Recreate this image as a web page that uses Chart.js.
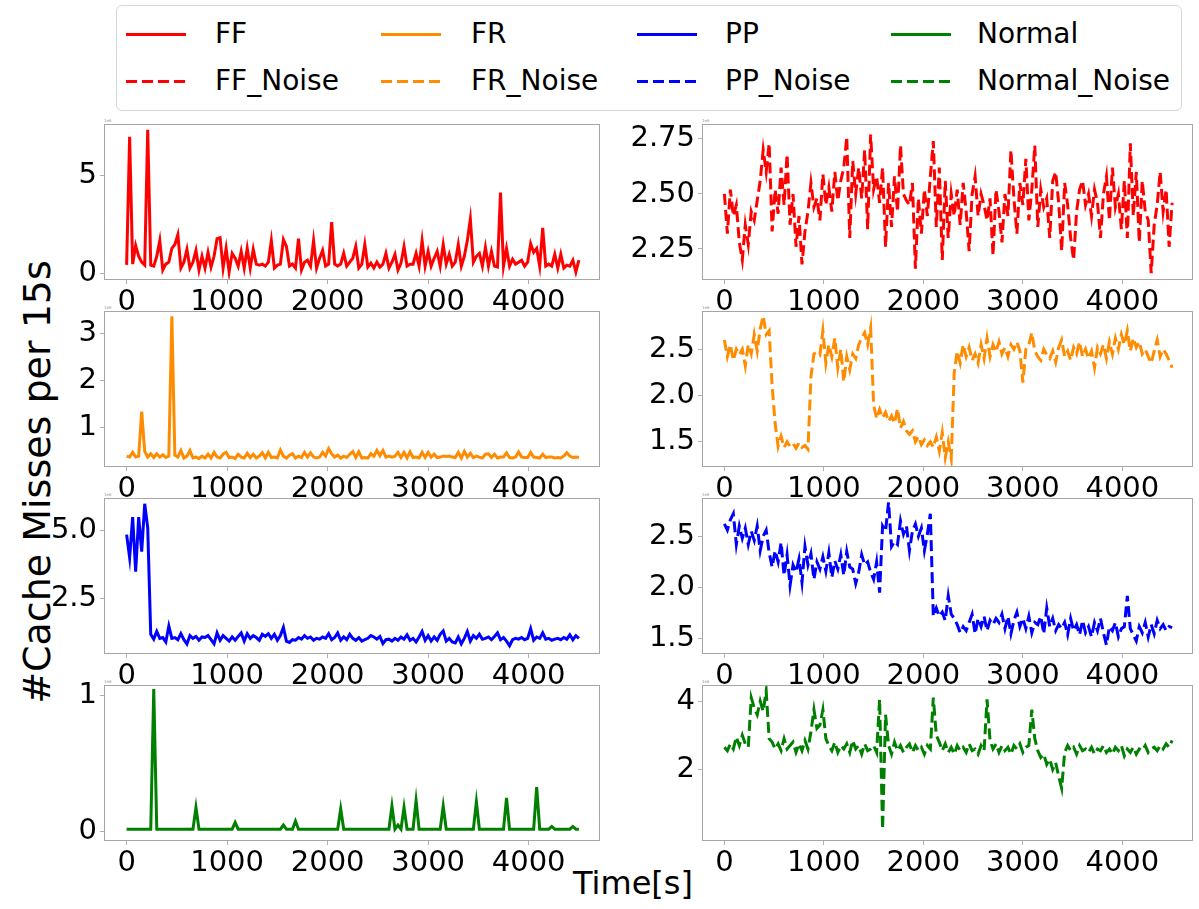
<!DOCTYPE html>
<html>
<head>
<meta charset="utf-8">
<script src="https://cdn.jsdelivr.net/npm/chart.js@4.4.1/dist/chart.umd.min.js"></script>
<style>
  body { margin: 0; background: #fff; width: 1199px; height: 909px; position: relative; overflow: hidden; font-family: "DejaVu Sans", sans-serif; }
  canvas.panel { position: absolute; }
  #legend { position: absolute; left: 116px; top: 5px; width: 1066px; height: 106px; border: 1px solid #d6d6d6; border-radius: 6px; box-sizing: border-box; }
  .lg-line { position: absolute; width: 60px; height: 3px; }
  .lg-text { position: absolute; font-size: 28px; line-height: 34px; color: #000; white-space: nowrap; }
  #ylabel { position: absolute; left: -263px; top: 460px; width: 600px; height: 44px; text-align: center; font-size: 38px; line-height: 44px; transform: rotate(-90deg); white-space: nowrap; }
  #xlabel { position: absolute; left: 483px; top: 863px; width: 300px; text-align: center; font-size: 32px; line-height: 40px; }
</style>
</head>
<body>
<div id="legend"></div>
<div id="ylabel">#Cache Misses per 15s</div>
<div id="xlabel">Time[s]</div>
<script>
// samples are every 30 s, starting at t = 0
const sampleStep = 30;
const xTicks = [0, 1000, 2000, 3000, 4000];

const legendNames = ['FF', 'FR', 'PP', 'Normal'];
const legendNoiseNames = ['FF_Noise', 'FR_Noise', 'PP_Noise', 'Normal_Noise'];
const colors = ['#ff0000', '#ff8c00', '#0000ff', '#008000'];

const ffValues = [0.46, 7.0, 0.5, 1.45, 0.9, 0.6, 0.45, 7.35, 0.45, 0.4,
  0.9, 1.7, 0.2, 0.5, 0.6, 1.3, 1.5, 2.0, 0.3, 0.6,
  1.25, 0.3, 0.6, 1.2, 0.2, 0.9, 0.3, 1.1, 0.35, 0.9,
  1.8, 1.85, 0.3, 1.3, 0.1, 1.05, 0.8, 0.4, 1.15, 0.3,
  1.3, 0.3, 1.25, 0.5, 0.45, 0.5, 0.4, 0.6, 1.7, 0.3,
  0.45, 0.5, 1.75, 1.4, 0.4, 0.5, 0.3, 1.8, 0.2, 0.6,
  0.7, 0.4, 1.7, 0.3, 0.8, 1.2, 0.4, 0.5, 2.65, 0.5,
  0.4, 0.5, 1.05, 0.4, 0.6, 0.8, 1.4, 0.3, 0.5, 1.5,
  0.35, 0.55, 0.3, 0.6, 0.35, 0.5, 1.05, 0.3, 0.6, 1.0,
  0.2, 0.55, 1.4, 0.4, 0.5, 0.5, 1.05, 0.4, 1.7, 0.4,
  1.15, 0.4, 0.8, 1.15, 0.4, 1.5, 0.5, 1.0, 0.4, 0.6,
  1.5, 0.4, 0.9, 1.7, 2.8, 0.6, 0.9, 1.05, 0.4, 1.35,
  0.4, 1.15, 0.4, 0.35, 4.15, 0.4, 1.3, 0.4, 0.75, 0.5,
  0.6, 0.7, 0.4, 0.6, 1.55, 1.1, 1.3, 0.4, 2.35, 0.4,
  0.5, 0.4, 1.0, 0.3, 1.0, 0.3, 0.45, 0.4, 0.7, 0.1, 0.7];

const ffNoiseValues = [2.50, 2.32, 2.52, 2.40, 2.45, 2.28, 2.20, 2.36, 2.27, 2.42,
  2.38, 2.47, 2.56, 2.70, 2.60, 2.73, 2.33, 2.52, 2.41, 2.62,
  2.45, 2.68, 2.36, 2.50, 2.26, 2.40, 2.18, 2.33, 2.42, 2.55,
  2.44, 2.48, 2.38, 2.59, 2.45, 2.53, 2.42, 2.60, 2.47, 2.56,
  2.62, 2.76, 2.30, 2.65, 2.50, 2.62, 2.48, 2.70, 2.34, 2.77,
  2.52, 2.58, 2.46, 2.62, 2.26, 2.55, 2.35, 2.58, 2.42, 2.72,
  2.50, 2.47, 2.45, 2.55, 2.16, 2.48, 2.32, 2.52, 2.40, 2.58,
  2.74, 2.35, 2.62, 2.20, 2.56, 2.30, 2.50, 2.40, 2.52, 2.36,
  2.55, 2.42, 2.24, 2.50, 2.58, 2.40, 2.50, 2.45, 2.38, 2.48,
  2.22, 2.52, 2.42, 2.28, 2.50, 2.40, 2.70, 2.48, 2.32, 2.55,
  2.45, 2.66, 2.38, 2.52, 2.72, 2.35, 2.52, 2.44, 2.48, 2.30,
  2.56, 2.60, 2.46, 2.24, 2.55, 2.45, 2.30, 2.20, 2.42, 2.52,
  2.56, 2.45, 2.50, 2.40, 2.52, 2.46, 2.30, 2.50, 2.58, 2.38,
  2.62, 2.44, 2.50, 2.34, 2.56, 2.30, 2.73, 2.40, 2.60, 2.28,
  2.56, 2.42, 2.38, 2.14, 2.36, 2.45, 2.60, 2.42, 2.52, 2.26, 2.46];

const frValues = [0.40, 0.38, 0.48, 0.38, 0.40, 1.34, 0.50, 0.38, 0.45, 0.37,
  0.45, 0.38, 0.43, 0.37, 0.40, 3.36, 0.42, 0.38, 0.52, 0.36,
  0.40, 0.52, 0.36, 0.38, 0.35, 0.40, 0.36, 0.44, 0.36, 0.48,
  0.38, 0.36, 0.44, 0.48, 0.37, 0.38, 0.35, 0.44, 0.38, 0.36,
  0.46, 0.37, 0.44, 0.36, 0.40, 0.47, 0.36, 0.48, 0.37, 0.38,
  0.36, 0.53, 0.40, 0.36, 0.42, 0.45, 0.36, 0.40, 0.37, 0.48,
  0.38, 0.47, 0.38, 0.36, 0.38, 0.48, 0.40, 0.56, 0.45, 0.38,
  0.42, 0.36, 0.40, 0.37, 0.44, 0.50, 0.37, 0.49, 0.36, 0.37,
  0.36, 0.45, 0.40, 0.52, 0.41, 0.52, 0.38, 0.40, 0.38, 0.40,
  0.48, 0.37, 0.48, 0.36, 0.49, 0.37, 0.38, 0.36, 0.48, 0.37,
  0.48, 0.38, 0.44, 0.37, 0.38, 0.40, 0.39, 0.40, 0.38, 0.37,
  0.48, 0.36, 0.50, 0.38, 0.46, 0.37, 0.40, 0.38, 0.36, 0.44,
  0.45, 0.37, 0.44, 0.36, 0.38, 0.38, 0.47, 0.37, 0.36, 0.38,
  0.49, 0.38, 0.37, 0.37, 0.48, 0.38, 0.37, 0.36, 0.44, 0.37,
  0.38, 0.38, 0.36, 0.37, 0.36, 0.40, 0.47, 0.40, 0.37, 0.38, 0.37];

const frNoiseValues = [2.60, 2.42, 2.55, 2.38, 2.50, 2.44, 2.50, 2.32, 2.55, 2.45,
  2.66, 2.48, 2.72, 2.86, 2.66, 2.70, 2.10, 1.70, 1.45, 1.56,
  1.44, 1.50, 1.45, 1.48, 1.43, 1.49, 1.44, 1.46, 1.42, 2.20,
  2.45, 2.47, 2.44, 2.70, 2.35, 2.55, 2.42, 2.62, 2.30, 2.50,
  2.15, 2.42, 2.28, 2.45, 2.40, 2.55, 2.62, 2.68, 2.55, 2.73,
  1.90, 1.75, 1.85, 1.76, 1.82, 1.72, 1.78, 1.70, 1.86, 1.65,
  1.72, 1.62, 1.58, 1.62, 1.50, 1.56, 1.47, 1.52, 1.46, 1.50,
  1.44, 1.55, 1.40, 1.60, 1.33, 1.50, 1.32, 2.25, 2.48, 2.35,
  2.55, 2.42, 2.52, 2.38, 2.45, 2.35, 2.55, 2.40, 2.62, 2.42,
  2.55, 2.47, 2.58, 2.45, 2.52, 2.42, 2.55, 2.50, 2.58, 2.48,
  2.14, 2.50, 2.55, 2.68, 2.48, 2.42, 2.38, 2.50, 2.44, 2.40,
  2.48, 2.36, 2.52, 2.60, 2.42, 2.48, 2.38, 2.52, 2.45, 2.58,
  2.42, 2.50, 2.40, 2.48, 2.30, 2.52, 2.45, 2.55, 2.40, 2.58,
  2.45, 2.62, 2.50, 2.66, 2.55, 2.70, 2.48, 2.62, 2.52, 2.58,
  2.45, 2.50, 2.42, 2.35, 2.48, 2.60, 2.42, 2.50, 2.45, 2.38, 2.30];

const ppValues = [4.84, 4.0, 5.48, 3.49, 5.48, 4.22, 5.97, 5.09, 1.2, 1.02,
  1.30, 1.05, 1.08, 0.92, 1.50, 1.05, 1.08, 1.00, 1.22, 1.00,
  0.84, 1.15, 1.05, 1.12, 0.98, 1.10, 1.08, 1.15, 1.00, 0.85,
  1.25, 0.98, 1.15, 1.05, 0.95, 1.10, 0.98, 1.12, 1.25, 0.95,
  1.22, 1.05, 1.15, 1.08, 0.98, 1.20, 1.12, 1.22, 1.05, 1.20,
  0.98, 1.15, 1.45, 0.95, 0.90, 1.00, 0.98, 1.08, 1.02, 1.15,
  1.05, 1.10, 0.98, 1.05, 1.02, 1.10, 1.05, 1.22, 1.00, 1.08,
  1.25, 0.98, 1.10, 1.00, 1.20, 1.05, 0.98, 1.08, 0.95, 1.00,
  1.05, 1.15, 1.10, 1.02, 1.12, 0.86, 1.00, 1.02, 0.95, 1.05,
  0.98, 1.10, 1.02, 1.18, 0.98, 1.05, 0.92, 1.10, 1.30, 0.98,
  1.15, 0.95, 1.10, 0.98, 1.20, 1.32, 0.95, 1.05, 0.92, 0.88,
  1.10, 0.85, 1.05, 1.30, 0.95, 1.15, 1.05, 1.20, 1.02, 1.05,
  1.10, 1.00, 1.12, 1.25, 1.00, 1.08, 0.95, 0.78, 1.00, 1.05,
  1.02, 1.08, 1.00, 1.05, 1.40, 0.98, 1.10, 1.05, 1.25, 1.02,
  1.05, 0.98, 1.02, 1.05, 1.00, 1.08, 1.02, 1.18, 1.00, 1.15, 1.05];

const ppNoiseValues = [2.62, 2.56, 2.66, 2.72, 2.42, 2.60, 2.48, 2.58, 2.42, 2.55,
  2.46, 2.60, 2.36, 2.50, 2.56, 2.34, 2.20, 2.36, 2.25, 2.44,
  2.12, 2.32, 2.02, 2.22, 2.15, 2.28, 2.05, 2.40, 2.22, 2.33,
  2.08, 2.25, 2.18, 2.30, 2.16, 2.34, 2.10, 2.26, 2.18, 2.32,
  2.12, 2.35, 2.20, 2.18, 2.04, 2.15, 2.32, 2.22, 2.25, 2.15,
  2.08, 2.25, 1.95, 2.60, 2.55, 2.83, 2.40, 2.45, 2.42, 2.65,
  2.52, 2.60, 2.36, 2.55, 2.62, 2.50, 2.58, 2.36, 2.52, 2.72,
  1.72, 1.80, 1.72, 1.76, 1.68, 1.92, 1.74, 1.70, 1.64, 1.56,
  1.62, 1.58, 1.66, 1.74, 1.55, 1.70, 1.62, 1.72, 1.58, 1.68,
  1.64, 1.70, 1.66, 1.74, 1.60, 1.72, 1.55, 1.68, 1.76, 1.62,
  1.70, 1.60, 1.72, 1.56, 1.66, 1.64, 1.72, 1.55, 1.80, 1.62,
  1.70, 1.58, 1.64, 1.60, 1.66, 1.54, 1.70, 1.58, 1.64, 1.54,
  1.68, 1.56, 1.62, 1.52, 1.66, 1.58, 1.70, 1.56, 1.44, 1.62,
  1.58, 1.66, 1.52, 1.60, 1.62, 1.92, 1.60, 1.54, 1.48, 1.62,
  1.56, 1.66, 1.52, 1.64, 1.55, 1.68, 1.60, 1.64, 1.58, 1.62, 1.61];

const normalValues = [0.02, 0.02, 0.02, 0.02, 0.02, 0.02, 0.02, 0.02, 0.02, 1.05,
  0.02, 0.02, 0.02, 0.02, 0.02, 0.02, 0.02, 0.02, 0.02, 0.02,
  0.02, 0.02, 0.02, 0.18, 0.02, 0.02, 0.02, 0.02, 0.02, 0.02,
  0.02, 0.02, 0.02, 0.02, 0.02, 0.02, 0.07, 0.02, 0.02, 0.02,
  0.02, 0.02, 0.02, 0.02, 0.02, 0.02, 0.02, 0.02, 0.02, 0.02,
  0.02, 0.02, 0.05, 0.02, 0.02, 0.02, 0.08, 0.02, 0.02, 0.02,
  0.02, 0.02, 0.02, 0.02, 0.02, 0.02, 0.02, 0.02, 0.02, 0.02,
  0.02, 0.17, 0.02, 0.02, 0.02, 0.02, 0.02, 0.02, 0.02, 0.02,
  0.02, 0.02, 0.02, 0.02, 0.02, 0.02, 0.02, 0.02, 0.19, 0.02,
  0.05, 0.02, 0.18, 0.02, 0.02, 0.02, 0.23, 0.02, 0.02, 0.02,
  0.02, 0.02, 0.02, 0.02, 0.02, 0.19, 0.02, 0.02, 0.02, 0.02,
  0.02, 0.02, 0.02, 0.02, 0.02, 0.02, 0.22, 0.02, 0.02, 0.02,
  0.02, 0.02, 0.02, 0.02, 0.02, 0.02, 0.25, 0.02, 0.02, 0.02,
  0.02, 0.02, 0.02, 0.02, 0.02, 0.02, 0.33, 0.02, 0.02, 0.02,
  0.02, 0.04, 0.02, 0.02, 0.02, 0.02, 0.02, 0.02, 0.04, 0.02, 0.02];

const normalNoiseValues = [2.65, 2.55, 2.75, 2.60, 2.95, 2.70, 3.00, 2.75, 2.65, 4.10,
  3.80, 3.60, 4.00, 3.70, 4.30, 2.90, 2.80, 2.60, 2.75, 2.55,
  2.90, 2.60, 2.70, 2.80, 2.50, 2.75, 2.55, 2.85, 2.60, 3.10,
  3.75, 3.20, 3.30, 3.75, 2.90, 2.70, 2.55, 2.80, 2.50, 2.70,
  2.60, 2.75, 2.50, 2.85, 2.60, 2.70, 2.45, 2.75, 2.55, 2.60,
  2.70, 2.50, 4.05, 0.25, 3.60, 2.70, 2.45, 2.80, 2.55, 2.70,
  2.50, 2.65, 2.75, 2.50, 2.70, 2.55, 2.65, 2.45, 2.70, 2.60,
  4.10, 3.00, 2.80, 2.55, 2.75, 2.50, 2.65, 2.45, 2.70, 2.55,
  2.65, 2.50, 2.75, 2.55, 2.60, 2.45, 2.70, 2.55, 4.05, 2.85,
  2.60, 2.75, 2.50, 2.70, 2.55, 2.65, 2.45, 2.70, 2.60, 2.75,
  2.50, 2.65, 2.70, 3.75, 2.90, 2.55, 2.35, 2.45, 2.15, 2.30,
  2.00, 2.20, 1.80, 1.45, 2.50, 2.70, 2.55, 2.65, 2.45, 2.70,
  2.55, 2.60, 2.50, 2.65, 2.45, 2.60, 2.55, 2.70, 2.50, 2.60,
  2.45, 2.65, 2.55, 2.70, 2.40, 2.60, 2.50, 2.65, 2.45, 2.60,
  2.55, 2.70, 2.50, 2.60, 2.65, 2.55, 2.70, 2.60, 2.75, 2.65, 2.85];

// y tick values and their labels per panel
const ffTicks = [0, 5], ffTickLabels = ['0', '5'];
const ffNoiseTicks = [2.25, 2.5, 2.75], ffNoiseTickLabels = ['2.25', '2.50', '2.75'];
const frTicks = [1, 2, 3], frTickLabels = ['1', '2', '3'];
const frNoiseTicks = [1.5, 2.0, 2.5], frNoiseTickLabels = ['1.5', '2.0', '2.5'];
const ppTicks = [2.5, 5.0], ppTickLabels = ['2.5', '5.0'];
const ppNoiseTicks = [1.5, 2.0, 2.5], ppNoiseTickLabels = ['1.5', '2.0', '2.5'];
const normalTicks = [0, 1], normalTickLabels = ['0', '1'];
const normalNoiseTicks = [2, 4], normalNoiseTickLabels = ['2', '4'];

// layout of the grid (pixels)
const rowTops = [124, 311, 498, 685];
const panelH = 156;
const colLefts = [104, 702];
const colWidths = [496, 491];
const yAxisW = 100, xAxisH = 40, padTop = 22, padRight = 6;

const panels = [
  { row: 0, col: 0, values: ffValues, color: colors[0], dashed: false, yMin: -0.31, yMax: 7.65, ticks: ffTicks, labels: ffTickLabels },
  { row: 0, col: 1, values: ffNoiseValues, color: colors[0], dashed: true, yMin: 2.109, yMax: 2.818, ticks: ffNoiseTicks, labels: ffNoiseTickLabels },
  { row: 1, col: 0, values: frValues, color: colors[1], dashed: false, yMin: 0.17, yMax: 3.47, ticks: frTicks, labels: frTickLabels },
  { row: 1, col: 1, values: frNoiseValues, color: colors[1], dashed: true, yMin: 1.228, yMax: 2.913, ticks: frNoiseTicks, labels: frNoiseTickLabels },
  { row: 2, col: 0, values: ppValues, color: colors[2], dashed: false, yMin: 0.478, yMax: 6.18, ticks: ppTicks, labels: ppTickLabels },
  { row: 2, col: 1, values: ppNoiseValues, color: colors[2], dashed: true, yMin: 1.353, yMax: 2.873, ticks: ppNoiseTicks, labels: ppNoiseTickLabels },
  { row: 3, col: 0, values: normalValues, color: colors[3], dashed: false, yMin: -0.067, yMax: 1.08, ticks: normalTicks, labels: normalTickLabels },
  { row: 3, col: 1, values: normalNoiseValues, color: colors[3], dashed: true, yMin: -0.09, yMax: 4.47, ticks: normalNoiseTicks, labels: normalNoiseTickLabels },
];

// box around each axes plus the tiny offset text in the corner
const framePlugin = {
  id: 'frame',
  afterDraw(chart) {
    const { ctx, chartArea: { left, top, right, bottom } } = chart;
    ctx.save();
    ctx.strokeStyle = '#a6a6a6';
    ctx.lineWidth = 1;
    ctx.strokeRect(left + 0.5, top + 0.5, right - left - 1, bottom - top - 1);
    ctx.fillStyle = '#999';
    ctx.font = '4px "DejaVu Sans"';
    ctx.fillText('1e6', left, top - 2);
    ctx.restore();
  }
};

const tickFont = { family: '"DejaVu Sans", sans-serif', size: 29 };

panels.forEach(p => {
  const canvas = document.createElement('canvas');
  canvas.className = 'panel';
  const w = yAxisW + colWidths[p.col] + padRight;
  const h = padTop + panelH + xAxisH;
  canvas.width = w;
  canvas.height = h;
  canvas.style.left = (colLefts[p.col] - yAxisW) + 'px';
  canvas.style.top = (rowTops[p.row] - padTop) + 'px';
  document.body.appendChild(canvas);

  new Chart(canvas.getContext('2d'), {
    type: 'line',
    data: {
      datasets: [{
        data: p.values.map((v, i) => ({ x: i * sampleStep, y: v })),
        borderColor: p.color,
        borderWidth: 3,
        borderDash: p.dashed ? [11, 5] : [],
        pointRadius: 0,
        tension: 0,
        fill: false,
      }],
    },
    options: {
      responsive: false,
      animation: false,
      devicePixelRatio: 1,
      layout: { padding: { top: padTop, right: padRight, left: 0, bottom: 0 } },
      plugins: { legend: { display: false }, tooltip: { enabled: false } },
      scales: {
        x: {
          type: 'linear',
          min: -225,
          max: 4710,
          afterBuildTicks: s => { s.ticks = xTicks.map(v => ({ value: v })); },
          afterFit: s => { s.height = xAxisH; },
          ticks: { font: tickFont, color: '#000', padding: 1, maxRotation: 0, autoSkip: false, callback: v => String(v) },
          grid: { display: true, drawOnChartArea: false, drawTicks: true, tickLength: 4, color: '#b0b0b0' },
          border: { display: false },
        },
        y: {
          type: 'linear',
          min: p.yMin,
          max: p.yMax,
          afterBuildTicks: s => { s.ticks = p.ticks.map(v => ({ value: v })); },
          afterFit: s => { s.width = yAxisW; },
          ticks: { font: tickFont, color: '#000', padding: 3, autoSkip: false, callback: (v, i) => p.labels[i] },
          grid: { display: true, drawOnChartArea: false, drawTicks: true, tickLength: 4, color: '#b0b0b0' },
          border: { display: false },
        },
      },
    },
    plugins: [framePlugin],
  });
});

// legend
const legend = document.getElementById('legend');
const lineX = [9, 264, 520, 774];
const textX = [98, 354, 608, 860];
const rowY = [28, 75];
legendNames.forEach((name, c) => {
  [[name, false], [legendNoiseNames[c], true]].forEach(([label, dashed], r) => {
    const ln = document.createElement('div');
    ln.className = 'lg-line';
    ln.style.left = lineX[c] + 'px';
    ln.style.top = (rowY[r] - 1.5) + 'px';
    ln.style.background = dashed
      ? `repeating-linear-gradient(90deg, ${colors[c]} 0 11px, transparent 11px 16px)`
      : colors[c];
    legend.appendChild(ln);
    const tx = document.createElement('div');
    tx.className = 'lg-text';
    tx.style.left = textX[c] + 'px';
    tx.style.top = (rowY[r] - 17) + 'px';
    tx.textContent = label;
    legend.appendChild(tx);
  });
});
</script>
</body>
</html>
